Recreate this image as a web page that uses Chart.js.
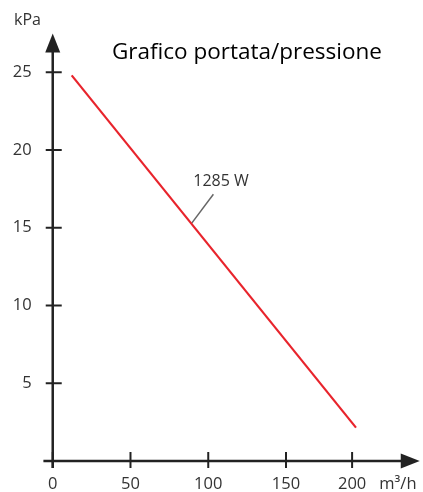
<!DOCTYPE html>
<html>
<head>
<meta charset="utf-8">
<script src="https://cdn.jsdelivr.net/npm/chart.js@4.4.0/dist/chart.umd.min.js"></script>
<style>
  html, body { margin: 0; padding: 0; background: #fff; }
  #wrap { width: 423px; height: 492px; position: relative; }
</style>
</head>
<body>
<div id="wrap"><canvas id="myChart" width="423" height="492"></canvas></div>
<script>
// curve: pressione (kPa) vs portata (m3/h)
const portata = [12.2, 195.0];
const pressione = [24.8, 2.15];
const curveLabel = '1285 W';
// leader line of the curve label
const leaderX = [89.4, 103.3];
const leaderY = [15.3, 17.15];
const labelPos = [108.2, 18.0];

const xTickValues = [0, 50, 100, 150, 192.5];
const xTickLabels = ['0', '50', '100', '150', '200'];
const yTickValues = [5, 10, 15, 20, 25];
const yTickLabels = ['5', '10', '15', '20', '25'];

const title = 'Grafico portata/pressione';
const xUnit = 'm³/h';
const yUnit = 'kPa';

const axisColor = '#222';
const textColor = '#333';
const fontFam = '"Open Sans", "DejaVu Sans", sans-serif';

// axes, ticks, arrows and texts drawn from the scales
const axesPlugin = {
    id: 'axesPlugin',
    afterDatasetsDraw(chart) {
        const ctx = chart.ctx;
        const xs = chart.scales.x;
        const ys = chart.scales.y;
        const x0 = xs.getPixelForValue(0);
        const y0 = ys.getPixelForValue(0);
        const xEnd = xs.getPixelForValue(236);
        const yTop = ys.getPixelForValue(27.5);
        ctx.save();
        ctx.strokeStyle = axisColor;
        ctx.fillStyle = axisColor;
        ctx.lineWidth = 2.5;
        // x axis
        ctx.beginPath();
        ctx.moveTo(xs.left, y0);
        ctx.lineTo(xEnd - 12, y0);
        ctx.stroke();
        ctx.beginPath();
        ctx.moveTo(xEnd, y0);
        ctx.lineTo(xEnd - 19, y0 - 7.5);
        ctx.lineTo(xEnd - 19, y0 + 7.5);
        ctx.closePath();
        ctx.fill();
        // y axis
        ctx.beginPath();
        ctx.moveTo(x0, y0 + 7);
        ctx.lineTo(x0, yTop + 12);
        ctx.stroke();
        ctx.beginPath();
        ctx.moveTo(x0, yTop);
        ctx.lineTo(x0 - 7.5, yTop + 19);
        ctx.lineTo(x0 + 7.5, yTop + 19);
        ctx.closePath();
        ctx.fill();
        // ticks
        ctx.lineWidth = 2;
        xTickValues.forEach(v => {
            const px = xs.getPixelForValue(v);
            ctx.beginPath();
            ctx.moveTo(px, y0 - 9);
            ctx.lineTo(px, y0 + 7);
            ctx.stroke();
        });
        yTickValues.forEach(v => {
            const py = ys.getPixelForValue(v);
            ctx.beginPath();
            ctx.moveTo(x0 - 7, py);
            ctx.lineTo(x0 + 9, py);
            ctx.stroke();
        });
        // tick labels
        ctx.fillStyle = textColor;
        ctx.font = '16.5px ' + fontFam;
        ctx.textBaseline = 'middle';
        ctx.textAlign = 'center';
        xTickValues.forEach((v, i) => {
            ctx.fillText(xTickLabels[i], xs.getPixelForValue(v), y0 + 23);
        });
        ctx.textAlign = 'left';
        ctx.fillText(xUnit, xs.getPixelForValue(210), y0 + 23);
        ctx.textAlign = 'right';
        yTickValues.forEach((v, i) => {
            ctx.fillText(yTickLabels[i], x0 - 21, ys.getPixelForValue(v));
        });
        ctx.textAlign = 'left';
        ctx.font = '16px ' + fontFam;
        ctx.fillText(yUnit, 14, 20);
        // curve label
        ctx.font = '16px ' + fontFam;
        ctx.textAlign = 'center';
        ctx.fillText(curveLabel, xs.getPixelForValue(labelPos[0]), ys.getPixelForValue(labelPos[1]));
        // title
        ctx.fillStyle = '#000';
        ctx.font = '22.5px ' + fontFam;
        ctx.textAlign = 'left';
        ctx.textBaseline = 'alphabetic';
        ctx.fillText(title, 112, 58.5);
        ctx.restore();
    }
};

new Chart(document.getElementById('myChart').getContext('2d'), {
    type: 'scatter',
    data: {
        datasets: [
            {
                data: portata.map((x, i) => ({ x: x, y: pressione[i] })),
                showLine: true,
                borderColor: '#e8242c',
                borderWidth: 2.2,
                pointRadius: 0
            },
            {
                data: leaderX.map((x, i) => ({ x: x, y: leaderY[i] })),
                showLine: true,
                borderColor: '#666',
                borderWidth: 1.5,
                pointRadius: 0
            }
        ]
    },
    options: {
        responsive: false,
        animation: false,
        layout: { padding: { left: 43.4, right: 3.25, top: 25.6, bottom: 15.45 } },
        plugins: { legend: { display: false }, tooltip: { enabled: false } },
        scales: {
            x: { type: 'linear', min: -6, max: 236, display: false },
            y: { type: 'linear', min: -1, max: 28, display: false }
        }
    },
    plugins: [axesPlugin]
});
</script>
</body>
</html>
